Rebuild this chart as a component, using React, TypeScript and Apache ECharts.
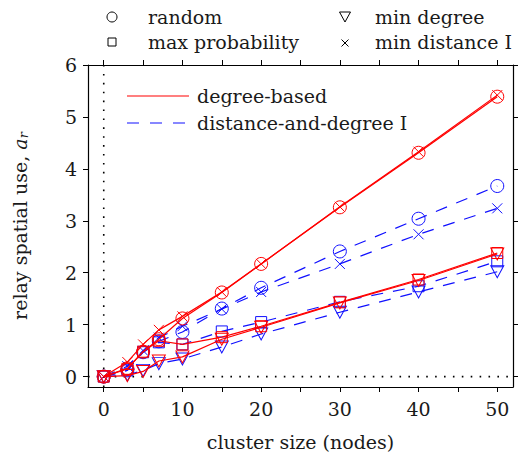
import React, { useEffect, useRef } from "react";
import * as echarts from "echarts";

const clusterSizes = [0, 3, 5, 7, 10, 15, 20, 30, 40, 50];

const degRandom = [0, 0.16, 0.48, 0.72, 1.12, 1.62, 2.17, 3.26, 4.31, 5.39];
const degMinDist = [0, 0.28, 0.62, 0.9, 1.16, 1.63, 2.17, 3.27, 4.33, 5.42];
const degMaxProb = [0, 0.15, 0.48, 0.69, 0.62, 0.76, 0.97, 1.43, 1.87, 2.38];
const degMinDeg = [0, 0.02, 0.1, 0.3, 0.38, 0.72, 0.95, 1.42, 1.85, 2.36];

const ddRandom = [0, 0.12, 0.47, 0.68, 0.86, 1.31, 1.71, 2.41, 3.04, 3.67];
const ddMinDist = [0, 0.2, 0.5, 0.75, 0.97, 1.3, 1.63, 2.17, 2.74, 3.24];
const ddMaxProb = [0, 0.12, 0.47, 0.66, 0.62, 0.87, 1.05, 1.44, 1.74, 2.22];
const ddMinDeg = [0, 0.03, 0.12, 0.25, 0.34, 0.57, 0.82, 1.24, 1.63, 2.02];

const xTicks = [0, 5, 10, 15, 20, 25, 30, 35, 40, 45, 50];
const xLabels = [0, 10, 20, 30, 40, 50];
const yTicks = [0, 1, 2, 3, 4, 5, 6];

const markerNames = ["random", "max probability", "min degree", "min distance I"];
const schemeNames = ["degree-based", "distance-and-degree I"];

const FONT = "DejaVu Serif";
const RED = "#ff0000";
const BLUE = "#1010ff";

const SYM_CIRCLE = "circle";
const SYM_RECT = "rect";
const SYM_TRI = "path://M0,0L12,0L6,11Z";
const SYM_X = "path://M0,0L10,10M0,10L10,0";

export default function App() {
  const ref = useRef<HTMLDivElement>(null);
  useEffect(() => {
    if (!ref.current) return;
    const chart = echarts.init(ref.current, null, { renderer: "svg" });

    const mk = (vals: number[], color: string, dashed: boolean, symbol: string, size: any, name: string) => ({
      type: "line",
      name,
      data: clusterSizes.map((x, i) => [x, vals[i]]),
      symbol,
      symbolSize: size,
      showSymbol: true,
      lineStyle: { color, width: 1.2, type: dashed ? [12, 10] : "solid" },
      itemStyle: { color: "none", borderColor: color, borderWidth: 1 },
      z: dashed ? 2 : 3,
      silent: true,
    });

    const blue = [
      mk(ddRandom, BLUE, true, SYM_CIRCLE, 13, markerNames[0]),
      mk(ddMaxProb, BLUE, true, SYM_RECT, 11, markerNames[1]),
      mk(ddMinDeg, BLUE, true, SYM_TRI, [13, 12], markerNames[2]),
      mk(ddMinDist, BLUE, true, SYM_X, 10, markerNames[3]),
    ];
    const red = [
      mk(degRandom, RED, false, SYM_CIRCLE, 13, markerNames[0]),
      mk(degMaxProb, RED, false, SYM_RECT, 11, markerNames[1]),
      mk(degMinDeg, RED, false, SYM_TRI, [13, 12], markerNames[2]),
      mk(degMinDist, RED, false, SYM_X, 10, markerNames[3]),
    ];

    const dotted = (data: number[][]) => ({
      type: "line",
      data,
      symbol: "none",
      lineStyle: { color: "#000", width: 1.6, type: [1.6, 7.3], cap: "butt" },
      z: 1,
      silent: true,
    });

    const axisCommon = {
      axisLine: { show: true, onZero: false, lineStyle: { color: "#000", width: 1.2 } },
      splitLine: { show: false },
    };

    const textStyle = { fontFamily: FONT, fontSize: 19, color: "#1a1a1a" };

    chart.setOption({
      animation: false,
      grid: { left: 88, right: 10, top: 65, bottom: 76 },
      xAxis: [
        {
          type: "value",
          min: -2,
          max: 52,
          position: "bottom",
          ...axisCommon,
          axisTick: { show: true, inside: false, length: 5, customValues: xTicks, lineStyle: { color: "#000", width: 1 } },
          axisLabel: { show: true, customValues: xLabels, margin: 12, ...textStyle },
          name: "cluster size (nodes)",
          nameLocation: "middle",
          nameGap: 45,
          nameTextStyle: { ...textStyle },
        },
        {
          type: "value",
          min: -2,
          max: 52,
          position: "top",
          ...axisCommon,
          axisTick: { show: true, inside: false, length: 5, customValues: xTicks, lineStyle: { color: "#000", width: 1 } },
          axisLabel: { show: false },
        },
      ],
      yAxis: [
        {
          type: "value",
          min: -0.2,
          max: 6,
          position: "left",
          ...axisCommon,
          axisTick: { show: true, inside: false, length: 5, customValues: yTicks, lineStyle: { color: "#000", width: 1 } },
          axisLabel: { show: true, customValues: yTicks, margin: 11, ...textStyle },
          name: "relay spatial use, {a|a}{r|r}",
          nameLocation: "middle",
          nameGap: 58,
          nameRotate: 90,
          nameTextStyle: {
            ...textStyle,
            rich: {
              a: { fontFamily: FONT, fontSize: 19, fontStyle: "italic", color: "#1a1a1a" },
              r: { fontFamily: FONT, fontSize: 13, fontStyle: "italic", color: "#1a1a1a", padding: [8, 0, 0, 0] },
            },
          },
        },
        {
          type: "value",
          min: -0.2,
          max: 6,
          position: "right",
          ...axisCommon,
          axisTick: { show: true, inside: false, length: 5, customValues: yTicks, lineStyle: { color: "#000", width: 1 } },
          axisLabel: { show: false },
        },
      ],
      series: [
        dotted([[0, -0.2], [0, 6]]),
        dotted([[-2, 0], [52, 0]]),
        ...blue,
        ...red,
      ],
      graphic: [
        // top legend (markers)
        { type: "circle", shape: { cx: 112, cy: 17, r: 5 }, style: { fill: "none", stroke: "#000", lineWidth: 1 } },
        { type: "text", x: 148, y: 17, style: { text: markerNames[0], ...textStyle, fill: "#1a1a1a", verticalAlign: "middle" } },
        { type: "rect", shape: { x: 108, y: 38, width: 8, height: 8 }, style: { fill: "none", stroke: "#000", lineWidth: 1 } },
        { type: "text", x: 148, y: 42, style: { text: markerNames[1], ...textStyle, fill: "#1a1a1a", verticalAlign: "middle" } },
        { type: "polygon", shape: { points: [[339.5, 12], [350.5, 12], [345, 22]] }, style: { fill: "none", stroke: "#000", lineWidth: 1 } },
        { type: "text", x: 375, y: 17, style: { text: markerNames[2], ...textStyle, fill: "#1a1a1a", verticalAlign: "middle" } },
        { type: "line", shape: { x1: 341.5, y1: 39.5, x2: 348.5, y2: 46.5 }, style: { stroke: "#000", lineWidth: 1 } },
        { type: "line", shape: { x1: 341.5, y1: 46.5, x2: 348.5, y2: 39.5 }, style: { stroke: "#000", lineWidth: 1 } },
        { type: "text", x: 375, y: 42, style: { text: markerNames[3], ...textStyle, fill: "#1a1a1a", verticalAlign: "middle" } },
        // inside legend (schemes)
        { type: "line", shape: { x1: 127, y1: 96, x2: 189, y2: 96 }, style: { stroke: RED, lineWidth: 1.2 } },
        { type: "text", x: 197, y: 96, style: { text: schemeNames[0], ...textStyle, fill: "#1a1a1a", verticalAlign: "middle" } },
        { type: "line", shape: { x1: 127, y1: 123, x2: 189, y2: 123 }, style: { stroke: BLUE, lineWidth: 1.2, lineDash: [12, 11] } },
        { type: "text", x: 197, y: 123, style: { text: schemeNames[1], ...textStyle, fill: "#1a1a1a", verticalAlign: "middle" } },
      ],
    });
    return () => chart.dispose();
  }, []);
  return <div ref={ref} style={{ width: 523, height: 463, position: "absolute", left: 0, top: 0 }} />;
}
